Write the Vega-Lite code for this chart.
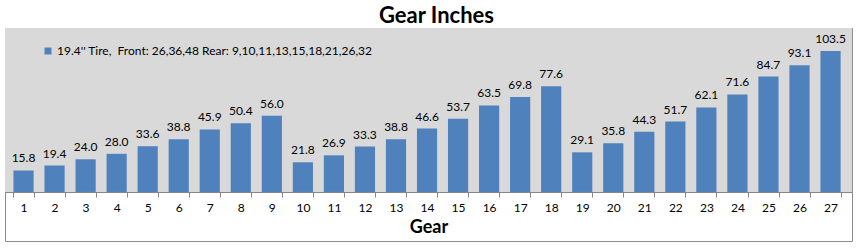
{
  "$schema": "https://vega.github.io/schema/vega-lite/v6.json",
  "width": 847,
  "height": 213,
  "autosize": {"type": "none"},
  "padding": {"left": 5, "top": 28, "right": 5, "bottom": 7},
  "background": "white",
  "title": {
    "text": "Gear Inches",
    "font": "Lato",
    "fontSize": 22,
    "fontWeight": "bold",
    "color": "black",
    "anchor": "middle",
    "frame": "group",
    "baseline": "alphabetic",
    "offset": 4,
    "dx": 8,
    "dy": 21
  },
  "config": {
    "view": {"stroke": "#8c8c8c", "strokeWidth": 1, "fill": "white"},
    "font": "Lato"
  },
  "data": {
    "values": [
      {"gear": 1, "inches": 15.8, "series": "19.4'' Tire,\u00a0 Front: 26,36,48 Rear: 9,10,11,13,15,18,21,26,32"},
      {"gear": 2, "inches": 19.4, "series": "19.4'' Tire,\u00a0 Front: 26,36,48 Rear: 9,10,11,13,15,18,21,26,32"},
      {"gear": 3, "inches": 24.0, "series": "19.4'' Tire,\u00a0 Front: 26,36,48 Rear: 9,10,11,13,15,18,21,26,32"},
      {"gear": 4, "inches": 28.0, "series": "19.4'' Tire,\u00a0 Front: 26,36,48 Rear: 9,10,11,13,15,18,21,26,32"},
      {"gear": 5, "inches": 33.6, "series": "19.4'' Tire,\u00a0 Front: 26,36,48 Rear: 9,10,11,13,15,18,21,26,32"},
      {"gear": 6, "inches": 38.8, "series": "19.4'' Tire,\u00a0 Front: 26,36,48 Rear: 9,10,11,13,15,18,21,26,32"},
      {"gear": 7, "inches": 45.9, "series": "19.4'' Tire,\u00a0 Front: 26,36,48 Rear: 9,10,11,13,15,18,21,26,32"},
      {"gear": 8, "inches": 50.4, "series": "19.4'' Tire,\u00a0 Front: 26,36,48 Rear: 9,10,11,13,15,18,21,26,32"},
      {"gear": 9, "inches": 56.0, "series": "19.4'' Tire,\u00a0 Front: 26,36,48 Rear: 9,10,11,13,15,18,21,26,32"},
      {"gear": 10, "inches": 21.8, "series": "19.4'' Tire,\u00a0 Front: 26,36,48 Rear: 9,10,11,13,15,18,21,26,32"},
      {"gear": 11, "inches": 26.9, "series": "19.4'' Tire,\u00a0 Front: 26,36,48 Rear: 9,10,11,13,15,18,21,26,32"},
      {"gear": 12, "inches": 33.3, "series": "19.4'' Tire,\u00a0 Front: 26,36,48 Rear: 9,10,11,13,15,18,21,26,32"},
      {"gear": 13, "inches": 38.8, "series": "19.4'' Tire,\u00a0 Front: 26,36,48 Rear: 9,10,11,13,15,18,21,26,32"},
      {"gear": 14, "inches": 46.6, "series": "19.4'' Tire,\u00a0 Front: 26,36,48 Rear: 9,10,11,13,15,18,21,26,32"},
      {"gear": 15, "inches": 53.7, "series": "19.4'' Tire,\u00a0 Front: 26,36,48 Rear: 9,10,11,13,15,18,21,26,32"},
      {"gear": 16, "inches": 63.5, "series": "19.4'' Tire,\u00a0 Front: 26,36,48 Rear: 9,10,11,13,15,18,21,26,32"},
      {"gear": 17, "inches": 69.8, "series": "19.4'' Tire,\u00a0 Front: 26,36,48 Rear: 9,10,11,13,15,18,21,26,32"},
      {"gear": 18, "inches": 77.6, "series": "19.4'' Tire,\u00a0 Front: 26,36,48 Rear: 9,10,11,13,15,18,21,26,32"},
      {"gear": 19, "inches": 29.1, "series": "19.4'' Tire,\u00a0 Front: 26,36,48 Rear: 9,10,11,13,15,18,21,26,32"},
      {"gear": 20, "inches": 35.8, "series": "19.4'' Tire,\u00a0 Front: 26,36,48 Rear: 9,10,11,13,15,18,21,26,32"},
      {"gear": 21, "inches": 44.3, "series": "19.4'' Tire,\u00a0 Front: 26,36,48 Rear: 9,10,11,13,15,18,21,26,32"},
      {"gear": 22, "inches": 51.7, "series": "19.4'' Tire,\u00a0 Front: 26,36,48 Rear: 9,10,11,13,15,18,21,26,32"},
      {"gear": 23, "inches": 62.1, "series": "19.4'' Tire,\u00a0 Front: 26,36,48 Rear: 9,10,11,13,15,18,21,26,32"},
      {"gear": 24, "inches": 71.6, "series": "19.4'' Tire,\u00a0 Front: 26,36,48 Rear: 9,10,11,13,15,18,21,26,32"},
      {"gear": 25, "inches": 84.7, "series": "19.4'' Tire,\u00a0 Front: 26,36,48 Rear: 9,10,11,13,15,18,21,26,32"},
      {"gear": 26, "inches": 93.1, "series": "19.4'' Tire,\u00a0 Front: 26,36,48 Rear: 9,10,11,13,15,18,21,26,32"},
      {"gear": 27, "inches": 103.5, "series": "19.4'' Tire,\u00a0 Front: 26,36,48 Rear: 9,10,11,13,15,18,21,26,32"}
    ]
  },
  "encoding": {
    "y": {
      "field": "inches",
      "type": "quantitative",
      "scale": {"domain": [-36, 120.4], "nice": false, "zero": false},
      "axis": null
    }
  },
  "layer": [
    {
      "data": {"values": [{"lo": 0, "hi": 120.4}]},
      "mark": {"type": "rect", "fill": "#D9D9D9"},
      "encoding": {
        "y": {"field": "lo", "type": "quantitative"},
        "y2": {"field": "hi"}
      }
    },
    {
      "mark": {"type": "bar"},
      "encoding": {
        "x": {
          "field": "gear",
          "type": "ordinal",
          "scale": {"paddingInner": 0.35, "paddingOuter": 0.319, "align": 0.426},
          "axis": {
            "title": "Gear",
            "titleFont": "Lato",
            "titleFontSize": 18,
            "titleFontWeight": "bold",
            "titleColor": "black",
            "titlePadding": 5,
            "labelAngle": 0,
            "labelFont": "Lato",
            "labelFontSize": 12,
            "labelColor": "black",
            "labelPadding": 5,
            "tickBand": "extent",
            "tickSize": 5,
            "tickColor": "#868686",
            "domainColor": "#868686",
            "offset": -49,
            "grid": false
          }
        },
        "color": {
          "field": "series",
          "type": "nominal",
          "scale": {"range": ["#4F81BD"]},
          "legend": {
            "title": null,
            "orient": "none",
            "legendX": 37,
            "legendY": 17,
            "padding": 0,
            "symbolType": "square",
            "symbolSize": 49,
            "symbolStrokeWidth": 0,
            "labelFont": "Lato",
            "labelFontSize": 12,
            "labelColor": "black",
            "labelOffset": 3,
            "labelLimit": 600
          }
        }
      }
    },
    {
      "mark": {"type": "text", "baseline": "alphabetic", "dy": -8, "font": "Lato", "fontSize": 12, "color": "black"},
      "encoding": {
        "x": {"field": "gear", "type": "ordinal"},
        "text": {"field": "inches", "type": "quantitative", "format": ".1f"}
      }
    }
  ]
}
